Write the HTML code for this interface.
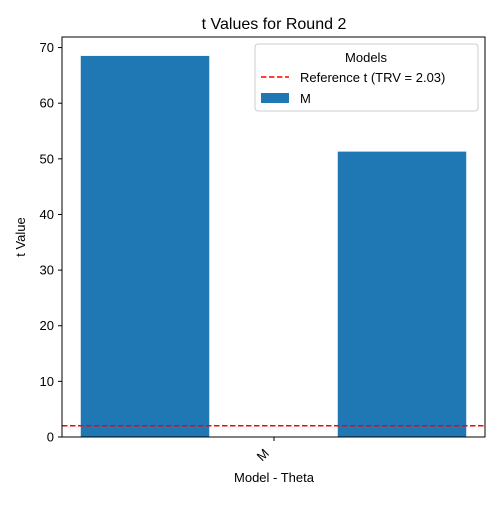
<!DOCTYPE html>
<html><head><meta charset="utf-8"><style>
body{margin:0;background:#fff;}
svg text{font-family:"Liberation Sans","DejaVu Sans",sans-serif;fill:#000;}
</style></head><body>
<svg id="chart" width="500" height="500" xmlns="http://www.w3.org/2000/svg">
<rect width="500" height="500" fill="#fff"/>
<text x="274" y="29" font-size="16" text-anchor="middle">t Values for Round 2</text>
<g id="bars"></g>
<g id="yaxis"></g>
<line id="refline" stroke="#ff0000" stroke-width="1.5" stroke-dasharray="5.5,2.5"/>
<rect x="62" y="37" width="423" height="400" fill="none" stroke="#000" stroke-width="1"/>
<line x1="274" y1="437" x2="274" y2="441" stroke="#000"/>
<text transform="translate(266,458) rotate(-45)" font-size="13" text-anchor="middle">M</text>
<text x="274" y="482" font-size="13" text-anchor="middle">Model - Theta</text>
<text transform="translate(25,237) rotate(-90)" font-size="13" text-anchor="middle">t Value</text>
<g>
<rect x="255" y="44" width="223" height="67" fill="#fff" fill-opacity="0.8" stroke="#ccc" rx="3"/>
<text x="366" y="62" font-size="13" text-anchor="middle">Models</text>
<line x1="261" y1="77" x2="289" y2="77" stroke="#ff0000" stroke-width="1.5" stroke-dasharray="5.5,2.5"/>
<text x="300" y="82" font-size="13">Reference t (TRV = 2.03)</text>
<rect x="261" y="93" width="28" height="10" fill="#1f77b4"/>
<text x="300" y="103" font-size="13">M</text>
</g>
</svg>
<script>
const barPositions=[0,1];
const barValues=[68.5,51.3];
const yTicks=[0,10,20,30,40,50,60,70];
const refValue=2.03;
const X0=62,X1=485,Y0=437,Y1=37;
const xd=[-0.323,1.323],yd=[0,71.9];
const xs=v=>X0+(v-xd[0])/(xd[1]-xd[0])*(X1-X0);
const ys=v=>Y0-(v-yd[0])/(yd[1]-yd[0])*(Y0-Y1);
const NS="http://www.w3.org/2000/svg";
const bars=document.getElementById('bars');
barPositions.forEach((p,i)=>{
 const r=document.createElementNS(NS,'rect');
 const l=xs(p-0.25),rr=xs(p+0.25);
 r.setAttribute('x',l);r.setAttribute('width',rr-l);
 r.setAttribute('y',ys(barValues[i]));r.setAttribute('height',ys(0)-ys(barValues[i]));
 r.setAttribute('fill','#1f77b4');
 
 
 bars.appendChild(r);
});
const ya=document.getElementById('yaxis');
yTicks.forEach(t=>{
 const y=ys(t);
 const ln=document.createElementNS(NS,'line');
 ln.setAttribute('x1',58);ln.setAttribute('x2',62);ln.setAttribute('y1',y);ln.setAttribute('y2',y);ln.setAttribute('stroke','#000');
 
 
 ya.appendChild(ln);
 const tx=document.createElementNS(NS,'text');
 tx.setAttribute('x',54);tx.setAttribute('y',y+4.5);tx.setAttribute('font-size','13');tx.setAttribute('text-anchor','end');
 tx.textContent=t;
 
 
 ya.appendChild(tx);
});
const rl=document.getElementById('refline');
rl.setAttribute('x1',X0);rl.setAttribute('x2',X1);rl.setAttribute('y1',ys(refValue));rl.setAttribute('y2',ys(refValue));
</script>
</body></html>
